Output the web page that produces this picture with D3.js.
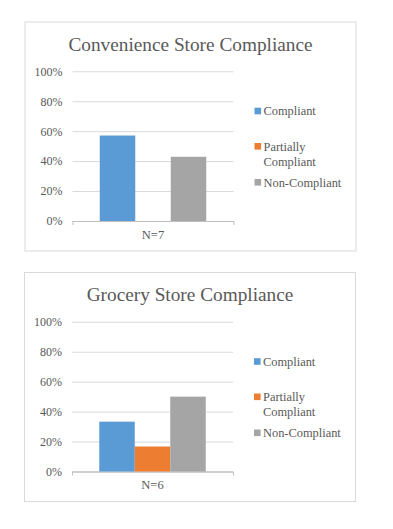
<!DOCTYPE html>
<html>
<head>
<meta charset="utf-8">
<script src="https://cdn.jsdelivr.net/npm/d3@7/dist/d3.min.js"></script>
<style>
  body { margin: 0; background: #fff; }
  svg { display: block; }
</style>
</head>
<body>
<div id="chart"></div>
<script>
// data
const seriesNames = ["Compliant", "Partially Compliant", "Non-Compliant"];
const seriesColors = ["#5B9BD5", "#ED7D31", "#A5A5A5"];
const chartTitles = ["Convenience Store Compliance", "Grocery Store Compliance"];
const sampleLabels = ["N=7", "N=6"];
const convenienceValues = [0.571, 0, 0.429];
const groceryValues = [0.333, 0.167, 0.5];
const yTicks = [0, 0.2, 0.4, 0.6, 0.8, 1];

const font = "'Liberation Serif', 'Times New Roman', serif";
const textColor = "#595959";

const svg = d3.select("#chart").append("svg")
  .attr("width", 393)
  .attr("height", 529);

svg.append("rect").attr("width", 393).attr("height", 529).attr("fill", "#fff");

// panel size and inner layout (relative to the panel)
const panelW = 331, panelH = 229;
const plot = { left: 48, right: 209, top: 49.8, bottom: 199.5 };

function drawPanel(ox, oy, title, label, values) {
  const g = svg.append("g").attr("transform", "translate(" + ox + "," + oy + ")");

  g.append("rect")
    .attr("x", 0.5).attr("y", 0.5)
    .attr("width", panelW).attr("height", panelH)
    .attr("fill", "#fff")
    .attr("stroke", "#D9D9D9");

  g.append("text")
    .attr("x", 166)
    .attr("y", 29)
    .attr("text-anchor", "middle")
    .attr("font-family", font)
    .attr("font-size", "19.3px")
    .attr("fill", textColor)
    .text(title);

  const y = d3.scaleLinear().domain([0, 1]).range([plot.bottom, plot.top]);

  const x0 = d3.scaleBand()
    .domain([label])
    .range([plot.left, plot.right])
    .paddingInner(0)
    .paddingOuter(0.256);

  const x1 = d3.scaleBand()
    .domain(seriesNames)
    .range([0, x0.bandwidth()]);

  // y axis + gridlines
  const yAxis = d3.axisLeft(y)
    .tickValues(yTicks)
    .tickFormat(d3.format(".0%"))
    .tickSizeInner(-(plot.right - plot.left))
    .tickSizeOuter(0);

  const ya = g.append("g")
    .attr("transform", "translate(" + plot.left + ",0)")
    .call(yAxis);
  ya.select(".domain").remove();
  ya.selectAll(".tick line")
    .attr("stroke", (d) => d === 0 ? "#BFBFBF" : "#D9D9D9");
  ya.selectAll(".tick text")
    .attr("x", -10)
    .attr("font-family", font)
    .attr("font-size", "12px")
    .attr("fill", textColor);

  // x axis
  const xAxis = d3.axisBottom(x0).tickSize(0).tickSizeOuter(4);
  const xa = g.append("g")
    .attr("transform", "translate(0," + plot.bottom + ")")
    .call(xAxis);
  xa.select(".domain").attr("stroke", "#BFBFBF");
  xa.selectAll(".tick text")
    .attr("y", 13.5)
    .attr("dy", "0.32em")
    .attr("font-family", font)
    .attr("font-size", "12.5px")
    .attr("fill", textColor);

  // bars
  g.append("g")
    .attr("transform", "translate(" + x0(label) + ",0)")
    .selectAll("rect")
    .data(values)
    .enter()
    .append("rect")
    .attr("x", (d, i) => x1(seriesNames[i]))
    .attr("y", (d) => y(d))
    .attr("width", x1.bandwidth())
    .attr("height", (d) => plot.bottom - y(d))
    .attr("fill", (d, i) => seriesColors[i]);

  // legend
  const legendY = [89.5, 124.8, 160.8];
  const lg = g.append("g");
  seriesNames.forEach((name, i) => {
    lg.append("rect")
      .attr("x", 230).attr("y", legendY[i] - 3.3)
      .attr("width", 6.6).attr("height", 6.6)
      .attr("fill", seriesColors[i]);
    const words = name === "Partially Compliant" ? ["Partially", "Compliant"] : [name];
    const t = lg.append("text")
      .attr("x", 239)
      .attr("y", legendY[i])
      .attr("dy", "0.35em")
      .attr("font-family", font)
      .attr("font-size", "12.4px")
      .attr("fill", textColor);
    words.forEach((w, j) => {
      t.append("tspan")
        .attr("x", 239)
        .attr("dy", j === 0 ? "0.35em" : "15.2px")
        .text(w);
    });
    t.attr("dy", null);
  });
}

drawPanel(24.5, 21.5, chartTitles[0], sampleLabels[0], convenienceValues);
drawPanel(24, 272, chartTitles[1], sampleLabels[1], groceryValues);
</script>
</body>
</html>
